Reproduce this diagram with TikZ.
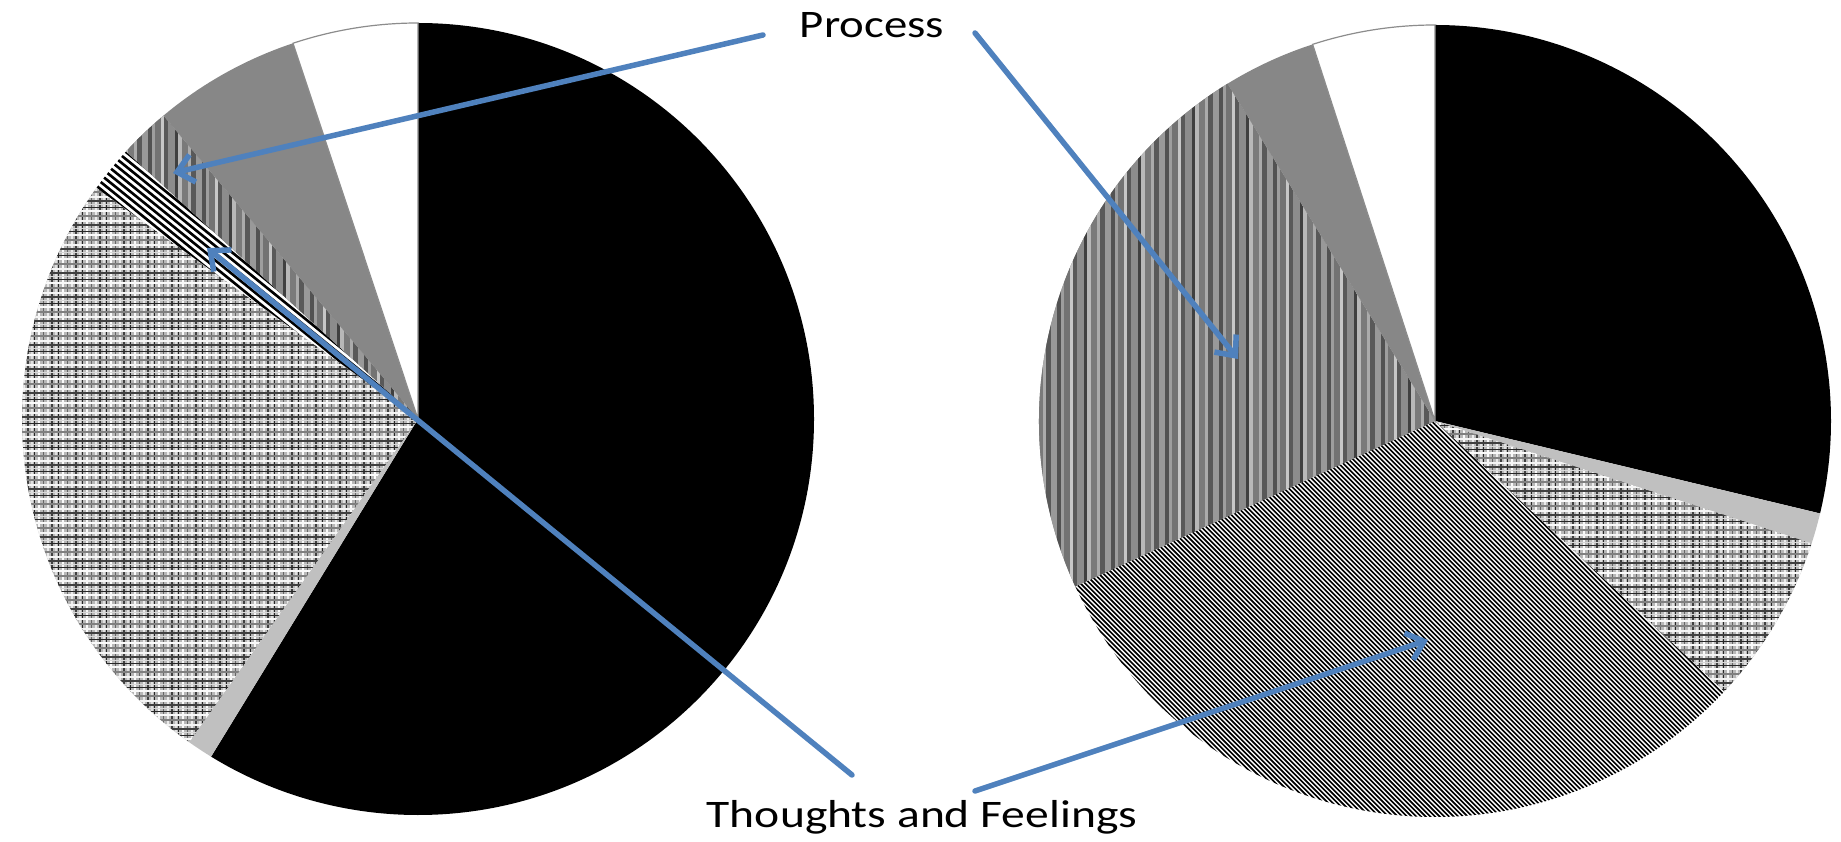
\documentclass[tikz,border=0pt]{standalone}
\usepackage{fontspec}
\setmainfont{Carlito}
\usetikzlibrary{arrows.meta}
\definecolor{arrowblue}{HTML}{4F81BD}
\definecolor{lightslice}{HTML}{C0C0C0}
\definecolor{solidslice}{HTML}{878787}
\tikzset{
  callout/.style={draw=arrowblue, line width=5.5pt, line cap=round,
    -{Straight Barb[length=16pt,width=28pt,line width=5.5pt]}},
  lbl/.style={anchor=base, inner sep=0pt, font=\fontsize{39}{47}\selectfont},
  whiteslice/.style={fill=white, draw=black!45, line width=1.2pt},
}
\newcommand\pieslice[3]{(0,0) -- (#1:#3) arc[start angle=#1, end angle=#2, radius=#3] -- cycle}
\newcommand\plaidfill{%
  \fill[black!28] (-400,-400) rectangle (400,400);
  \foreach \p in {-408,-384,...,408} {
    \foreach \o/\w/\k in {0/1.4/85, 4/2.4/2, 9/1.2/60, 13/2.4/8, 17/1.6/75, 21/1.5/12} {
      \fill[black!\k] (\p+\o,-400) rectangle ++(\w,800);
    }
  }
  \foreach \p in {-408,-384,...,408} {
    \foreach \o/\w/\k in {1/1.6/75, 5/2/4, 10/2.2/50, 15/2/2, 19/1.2/85, 22/1.4/15} {
      \fill[black!\k] (-400,\p+\o) rectangle ++(800,\w);
    }
  }
}
\newcommand\vstripefill[2]{%
  \fill[black!50] (-400,-400) rectangle (400,400);
  \foreach \p in {#1,#2,...,0} {
    \foreach \o/\w/\k in {0/4/68, 4/3/38, 7/6/55, 13/3/22, 16/4/65, 20/7/45, 27/3/75, 30/4/28, 34/6/52, 40/3/33, 43/5/65, 48/6/40} {
      \fill[black!\k] (\p+\o,-400) rectangle ++(\w,800);
    }
  }
}
\begin{document}
\begin{tikzpicture}[x=1pt,y=1pt]
\useasboundingbox (0,0) rectangle (1841,841);
\fill[white] (0,0) rectangle (1841,841);

% ---------------- left pie ----------------
\begin{scope}[shift={(418,422)}]
  \fill[black] \pieslice{90}{-121.5}{396};
  \fill[lightslice] \pieslice{-121.5}{-125.3}{396};
  \begin{scope}
    \clip \pieslice{-125.3}{-215.7}{396};
    \plaidfill
  \end{scope}
  \begin{scope}
    \clip \pieslice{-215.7}{-222.5}{396};
    \fill[white] (-400,-400) rectangle (400,400);
    \begin{scope}[rotate=-39]
      \foreach \i in {-80,...,80} \fill[black] (-450,\i*5.6) rectangle (450,\i*5.6+2.6);
    \end{scope}
  \end{scope}
  \begin{scope}
    \clip \pieslice{-222.5}{-230}{396};
    \vstripefill{-324}{-270}
  \end{scope}
  \fill[solidslice] \pieslice{-230}{-251.6}{396};
  \path[whiteslice] \pieslice{-251.6}{-270}{396};
\end{scope}

% ---------------- right pie ----------------
\begin{scope}[shift={(1435,420)}]
  \fill[black] \pieslice{90}{-13.5}{396};
  \fill[lightslice] \pieslice{-13.5}{-18}{396};
  \begin{scope}
    \clip \pieslice{-18}{-43.1}{396};
    \plaidfill
  \end{scope}
  \begin{scope}
    \clip \pieslice{-43.1}{-155.3}{396};
    \fill[white] (-400,-400) rectangle (400,400);
    \begin{scope}[rotate=-45]
      \foreach \i in {-125,...,125} \fill[black] (-450,\i*3.3) rectangle (450,\i*3.3+1.6);
    \end{scope}
  \end{scope}
  \begin{scope}
    \clip \pieslice{-155.3}{-238.4}{396};
    \vstripefill{-432}{-378}
  \end{scope}
  \fill[solidslice] \pieslice{-238.4}{-252}{396};
  \path[whiteslice] \pieslice{-252}{-270}{396};
\end{scope}

% ---------------- labels ----------------
\node[lbl] (process) at (872,803) {\scalebox{1.2}[1]{Process}};
\node[lbl] (thoughts) at (922,14) {\scalebox{1.22}[1]{Thoughts and Feelings}};

\coordinate (p1s) at (763,806);
\coordinate (p1t) at (173,668);
\coordinate (p2s) at (975,808);
\coordinate (p2t) at (1238,482);
\coordinate (t1s) at (852,66);
\coordinate (t1t) at (207,593);
\coordinate (t2s) at (975,50);
\coordinate (t2t) at (1428,201);

\draw[callout] (p1s) -- (p1t);
\draw[callout] (p2s) -- (p2t);
\draw[callout] (t1s) -- (t1t);
\draw[callout] (t2s) -- (t2t);
\end{tikzpicture}
\end{document}
